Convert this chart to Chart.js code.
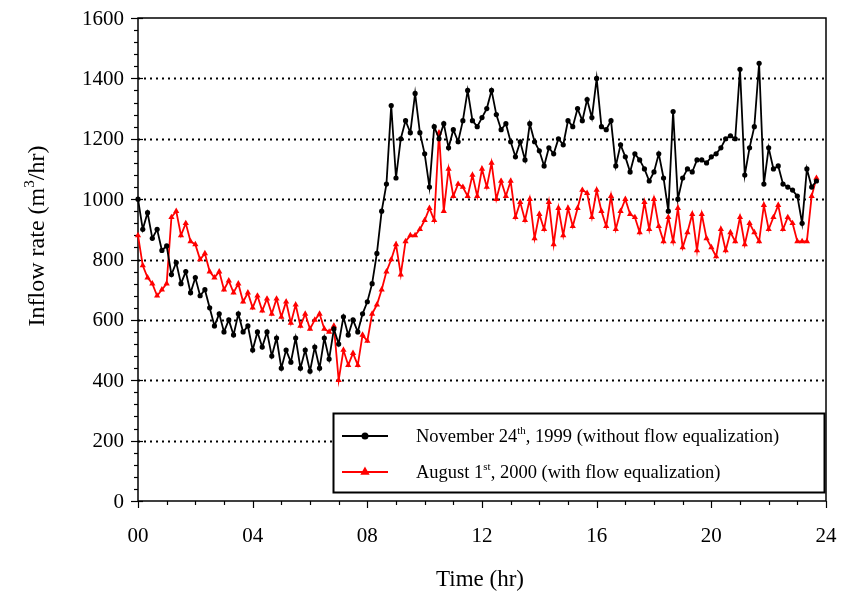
<!DOCTYPE html>
<html>
<head>
<meta charset="utf-8">
<script src="https://cdn.jsdelivr.net/npm/chart.js@4/dist/chart.umd.min.js"></script>
<style>
  html, body { margin: 0; padding: 0; background: #fff; }
  canvas { display: block; }
</style>
</head>
<body>
<canvas id="flowChart" width="842" height="600"></canvas>
<script>
// Inflow rate (m3/hr) sampled every 10 minutes from 00:00
const SAMPLE_MINUTES = 10;

const nov1999Flow = [
  1000, 900, 955, 870, 900, 830, 845, 750, 790, 720,
  760, 690, 740, 680, 700, 640, 580, 620, 560, 600,
  550, 620, 560, 580, 500, 560, 510, 560, 480, 540,
  440, 500, 460, 540, 440, 500, 430, 510, 440, 540,
  470, 570, 520, 610, 550, 600, 560, 620, 660, 720,
  820, 960, 1050, 1310, 1070, 1200, 1260, 1220, 1350, 1220,
  1150, 1040, 1240, 1200, 1250, 1170, 1230, 1190, 1260, 1360,
  1260, 1240, 1270, 1300, 1360, 1280, 1230, 1250, 1190, 1140,
  1190, 1130, 1250, 1190, 1160, 1110, 1170, 1150, 1200, 1180,
  1260, 1240, 1300, 1260, 1330, 1270, 1400, 1240, 1230, 1260,
  1110, 1180, 1140, 1090, 1150, 1130, 1100, 1060, 1090, 1150,
  1070, 960, 1290, 1000, 1070, 1100, 1090, 1130, 1130, 1120,
  1140, 1150, 1170, 1200, 1210, 1200, 1430, 1080, 1170, 1240,
  1450, 1050, 1170, 1100, 1110, 1050, 1040, 1030, 1010, 920,
  1100, 1040, 1060
];

const aug2000Flow = [
  880, 780, 740, 720, 680, 700, 720, 940, 960, 880,
  920, 860, 850, 800, 820, 760, 740, 760, 700, 730,
  690, 720, 660, 690, 640, 680, 630, 670, 620, 670,
  610, 660, 590, 650, 580, 620, 570, 600, 620, 570,
  560, 580, 400, 500, 450, 490, 450, 550, 530, 620,
  650, 700, 760, 800, 850, 750, 860, 880, 880, 900,
  930, 970, 930, 1220, 960, 1100, 1010, 1050, 1040, 1010,
  1080, 1010, 1100, 1040, 1120, 1000, 1060, 1010, 1060, 940,
  990, 930, 1000, 870, 950, 900, 990, 850, 970, 880,
  970, 910, 970, 1030, 1020, 940, 1030, 960, 910, 1010,
  900, 960, 1000, 950, 940, 890, 990, 900, 1000, 910,
  860, 940, 860, 970, 840, 890, 950, 830, 950, 870,
  840, 810, 900, 830, 890, 860, 940, 850, 920, 890,
  860, 980, 900, 940, 980, 900, 940, 920, 860, 860,
  860, 1010, 1070
];

const hourTicks = [0, 4, 8, 12, 16, 20, 24];
const hourTickLabels = ['00', '04', '08', '12', '16', '20', '24'];
const flowTicks = [0, 200, 400, 600, 800, 1000, 1200, 1400, 1600];
const gridFlows = [200, 400, 600, 800, 1000, 1200, 1400];

const legendLabels = [
  [{ t: 'November 24' }, { t: 'th', sup: true }, { t: ', 1999 (without flow equalization)' }],
  [{ t: 'August 1' }, { t: 'st', sup: true }, { t: ', 2000 (with flow equalization)' }]
];

const SERIF = '"Liberation Serif", "Times New Roman", serif';

const toPoints = (vals) => vals.map((v, i) => ({ x: i * SAMPLE_MINUTES / 60, y: v }));

// Text with superscript pieces
function drawRich(ctx, parts, x, y, size, align) {
  const supSize = Math.round(size * 0.62);
  let total = 0;
  parts.forEach(p => {
    ctx.font = (p.sup ? supSize : size) + 'px ' + SERIF;
    p.w = ctx.measureText(p.t).width;
    total += p.w;
  });
  let cx = align === 'center' ? x - total / 2 : x;
  ctx.textAlign = 'left';
  ctx.textBaseline = 'alphabetic';
  parts.forEach(p => {
    ctx.font = (p.sup ? supSize : size) + 'px ' + SERIF;
    ctx.fillText(p.t, cx, p.sup ? y - size * 0.42 : y);
    cx += p.w;
  });
}

const framePlugin = {
  id: 'frame',
  beforeDatasetsDraw(chart) {
    const { ctx, chartArea: a, scales: { x, y } } = chart;
    ctx.save();
    // dotted horizontal grid
    ctx.strokeStyle = '#000';
    ctx.lineWidth = 2;
    ctx.setLineDash([2, 4]);
    gridFlows.forEach(v => {
      const py = Math.round(y.getPixelForValue(v)) + 0.5;
      ctx.beginPath();
      ctx.moveTo(a.left, py);
      ctx.lineTo(a.right, py);
      ctx.stroke();
    });
    ctx.setLineDash([]);
    // frame
    ctx.lineWidth = 1.5;
    ctx.strokeRect(a.left, a.top, a.right - a.left, a.bottom - a.top);
    // y ticks: major every 200, minor every 40
    ctx.lineWidth = 1.2;
    for (let v = 0; v <= 1600; v += 40) {
      const py = Math.round(y.getPixelForValue(v)) + 0.5;
      const major = v % 200 === 0;
      ctx.beginPath();
      ctx.moveTo(a.left - (major ? 7 : 4), py);
      ctx.lineTo(a.left + (major ? 5 : 0), py);
      ctx.stroke();
    }
    // x ticks: major every 4 h, minor every hour
    for (let h = 0; h <= 24; h += 1) {
      const px = Math.round(x.getPixelForValue(h)) + 0.5;
      const major = h % 4 === 0;
      ctx.beginPath();
      ctx.moveTo(px, a.bottom);
      ctx.lineTo(px, a.bottom + (major ? 7 : 4));
      ctx.stroke();
    }
    // tick labels
    ctx.fillStyle = '#000';
    ctx.font = '21px ' + SERIF;
    ctx.textAlign = 'right';
    ctx.textBaseline = 'middle';
    flowTicks.forEach(v => ctx.fillText(String(v), a.left - 14, y.getPixelForValue(v) + 1));
    ctx.textAlign = 'center';
    hourTicks.forEach((h, i) => ctx.fillText(hourTickLabels[i], x.getPixelForValue(h), a.bottom + 35));
    ctx.restore();
  },
  afterDraw(chart) {
    const { ctx, chartArea: a } = chart;
    ctx.save();
    ctx.fillStyle = '#000';
    // axis titles
    ctx.save();
    ctx.translate(36, 236);
    ctx.rotate(-Math.PI / 2);
    drawRich(ctx, [{ t: 'Inflow rate (m' }, { t: '3', sup: true }, { t: '/hr)' }], 0, 8, 24, 'center');
    ctx.restore();
    drawRich(ctx, [{ t: 'Time (hr)' }], 480, 586, 23, 'center');

    // legend
    const bx = 333.5, by = 413.5, bw = 491, bh = 79;
    ctx.fillStyle = '#fff';
    ctx.fillRect(bx, by, bw, bh);
    ctx.strokeStyle = '#000';
    ctx.lineWidth = 2;
    ctx.strokeRect(bx, by, bw, bh);
    const rows = [436, 472];
    chart.data.datasets.forEach((ds, i) => {
      const ry = rows[i];
      ctx.strokeStyle = ds.borderColor;
      ctx.lineWidth = 1.8;
      ctx.beginPath();
      ctx.moveTo(342, ry);
      ctx.lineTo(388, ry);
      ctx.stroke();
      ctx.fillStyle = ds.borderColor;
      Chart.helpers.drawPoint(ctx, {
        pointStyle: ds.pointStyle, radius: ds.pointRadius, rotation: 0, borderWidth: 1
      }, 365, ry);
      ctx.fill();
      ctx.fillStyle = '#000';
      drawRich(ctx, legendLabels[i], 416, ry + 6, 18.5, 'left');
    });
    ctx.restore();
  }
};

new Chart(document.getElementById('flowChart'), {
  type: 'line',
  data: {
    datasets: [
      {
        label: 'November 24th, 1999 (without flow equalization)',
        data: toPoints(nov1999Flow),
        borderColor: '#000000',
        backgroundColor: '#000000',
        borderWidth: 1.8,
        pointStyle: 'circle',
        pointRadius: 2.6,
        pointBorderWidth: 0,
        tension: 0,
        clip: false
      },
      {
        label: 'August 1st, 2000 (with flow equalization)',
        data: toPoints(aug2000Flow),
        borderColor: '#ff0000',
        backgroundColor: '#ff0000',
        borderWidth: 1.8,
        pointStyle: 'triangle',
        pointRadius: 3.6,
        pointBorderWidth: 0,
        tension: 0,
        clip: false
      }
    ]
  },
  options: {
    responsive: false,
    animation: false,
    devicePixelRatio: 1,
    layout: { padding: { top: 18, right: 16, left: 0, bottom: 0 } },
    plugins: { legend: { display: false }, tooltip: { enabled: false } },
    scales: {
      x: {
        type: 'linear',
        min: 0,
        max: 24,
        afterBuildTicks: (s) => { s.ticks = hourTicks.map(v => ({ value: v })); },
        afterFit: (s) => { s.height = 99; },
        ticks: { display: false },
        grid: { display: false, drawTicks: false },
        border: { display: false }
      },
      y: {
        min: 0,
        max: 1600,
        afterBuildTicks: (s) => { s.ticks = flowTicks.map(v => ({ value: v })); },
        afterFit: (s) => { s.width = 138; },
        ticks: { display: false },
        grid: { display: false, drawTicks: false },
        border: { display: false }
      }
    }
  },
  plugins: [framePlugin]
});
</script>
</body>
</html>
